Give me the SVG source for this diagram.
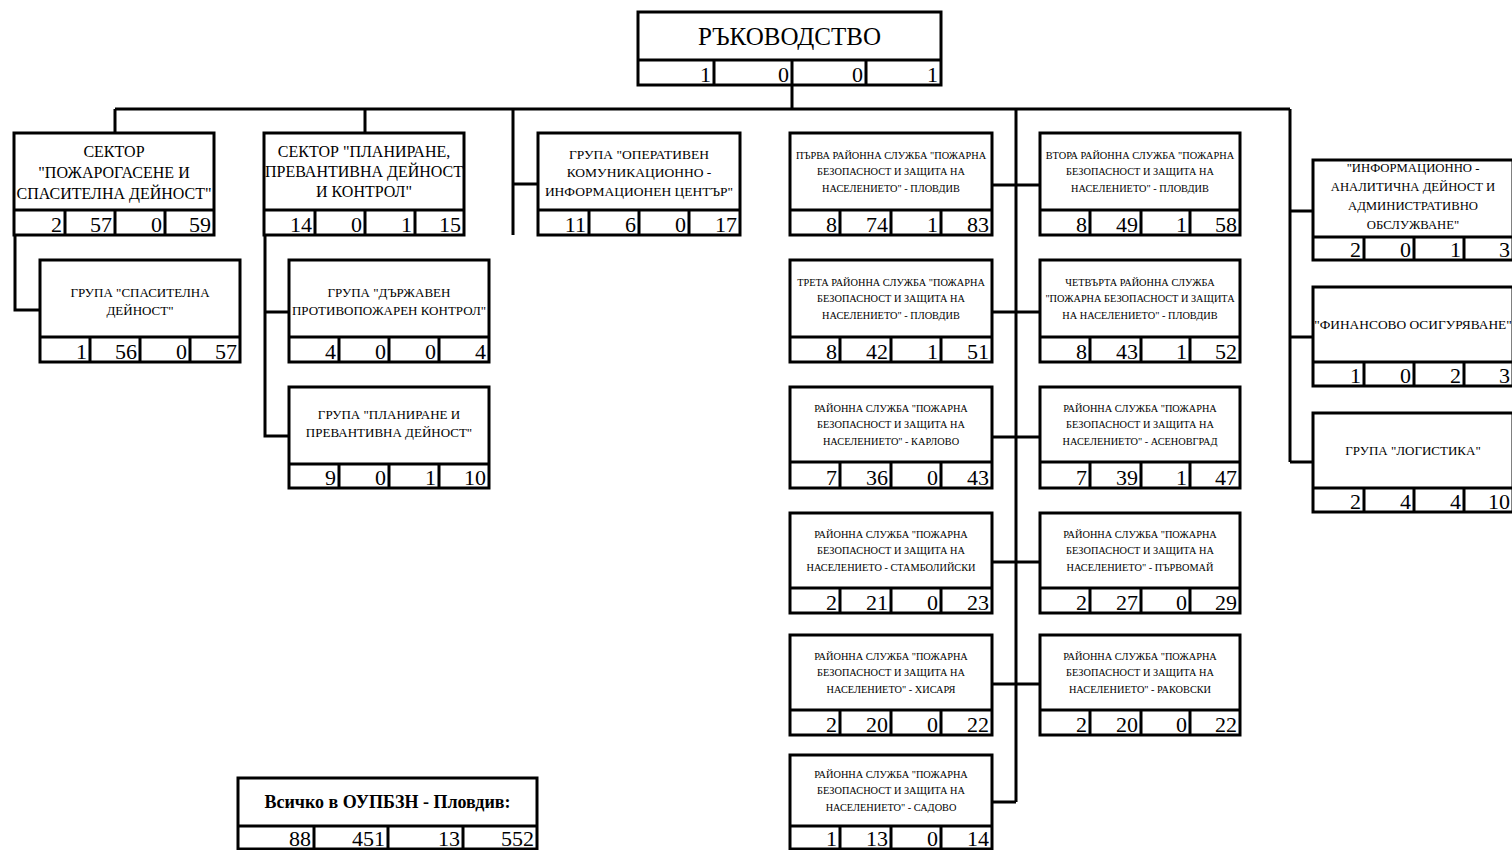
<svg xmlns="http://www.w3.org/2000/svg" width="1512" height="850" viewBox="0 0 1512 850">
<style>
.b{fill:#fff;stroke:#000;stroke-width:3}
.l{stroke:#000;stroke-width:3;fill:none}
.t{font-family:"Liberation Serif","Times New Roman",serif;text-anchor:middle;fill:#000}
.n{font-family:"Liberation Serif","Times New Roman",serif;text-anchor:end;font-size:22px;fill:#000}
.s16{font-size:16px}.s13{font-size:13px}.s135{font-size:13.5px}.s103{font-size:10.3px}
</style>
<rect width="1512" height="850" fill="#fff"/>
<g id="connectors" class="l">
<path d="M792 85V109M115 109H1290M115 109V133M365 109V133"/>
<path d="M513 109V235M513 184H538"/>
<path d="M1016 109V802M992 185H1040M992 312H1040M992 437H1040M992 562H1040M992 684H1040M992 802H1016"/>
<path d="M1290 109V462M1290 211H1313M1290 337H1313M1290 462H1313"/>
<path d="M15 235V310H40"/>
<path d="M265 235V436H289M265 312H289"/>
</g>
<g id="rukovodstvo">
<rect class="b" x="638" y="12" width="303" height="73"/>
<path class="l" d="M638 60H941M714 60V85M792 60V85M866 60V85"/>
<text class="t" x="789.5" y="45" font-size="25">РЪКОВОДСТВО</text>
<text class="n" y="82"><tspan x="711">1</tspan><tspan x="789">0</tspan><tspan x="863">0</tspan><tspan x="938">1</tspan></text>
</g>
<g id="sector1">
<rect class="b" x="14" y="133" width="200" height="102"/>
<path class="l" d="M14 210H214M65 210V235M115 210V235M165 210V235"/>
<text class="t s16"><tspan x="114" y="157">СЕКТОР</tspan><tspan x="114" y="178">"ПОЖАРОГАСЕНЕ И</tspan><tspan x="114" y="199">СПАСИТЕЛНА ДЕЙНОСТ"</tspan></text>
<text class="n" y="232"><tspan x="62">2</tspan><tspan x="112">57</tspan><tspan x="162">0</tspan><tspan x="211">59</tspan></text>
</g>
<g id="grp_spasitelna">
<rect class="b" x="40" y="260" width="200" height="102"/>
<path class="l" d="M40 337H240M90 337V362M140 337V362M190 337V362"/>
<text class="t s13"><tspan x="140" y="297">ГРУПА "СПАСИТЕЛНА</tspan><tspan x="140" y="315">ДЕЙНОСТ"</tspan></text>
<text class="n" y="359"><tspan x="87">1</tspan><tspan x="137">56</tspan><tspan x="187">0</tspan><tspan x="237">57</tspan></text>
</g>
<g id="sector2">
<rect class="b" x="264" y="133" width="200" height="102"/>
<path class="l" d="M264 210H464M315 210V235M365 210V235M415 210V235"/>
<text class="t s16"><tspan x="364" y="157">СЕКТОР "ПЛАНИРАНЕ,</tspan><tspan x="364" y="177">ПРЕВАНТИВНА ДЕЙНОСТ</tspan><tspan x="364" y="197">И КОНТРОЛ"</tspan></text>
<text class="n" y="232"><tspan x="312">14</tspan><tspan x="362">0</tspan><tspan x="412">1</tspan><tspan x="461">15</tspan></text>
</g>
<g id="grp_dpk">
<rect class="b" x="289" y="260" width="200" height="102"/>
<path class="l" d="M289 337H489M339 337V362M389 337V362M439 337V362"/>
<text class="t s13"><tspan x="389" y="297">ГРУПА "ДЪРЖАВЕН</tspan><tspan x="389" y="315">ПРОТИВОПОЖАРЕН КОНТРОЛ"</tspan></text>
<text class="n" y="359"><tspan x="336">4</tspan><tspan x="386">0</tspan><tspan x="436">0</tspan><tspan x="486">4</tspan></text>
</g>
<g id="grp_ppd">
<rect class="b" x="289" y="387" width="200" height="101"/>
<path class="l" d="M289 464H489M339 464V488M389 464V488M439 464V488"/>
<text class="t s13"><tspan x="389" y="419">ГРУПА "ПЛАНИРАНЕ И</tspan><tspan x="389" y="437">ПРЕВАНТИВНА ДЕЙНОСТ"</tspan></text>
<text class="n" y="485"><tspan x="336">9</tspan><tspan x="386">0</tspan><tspan x="436">1</tspan><tspan x="486">10</tspan></text>
</g>
<g id="grp_okic">
<rect class="b" x="538" y="133" width="202" height="102"/>
<path class="l" d="M538 210H740M589 210V235M639 210V235M689 210V235"/>
<text class="t s135"><tspan x="639" y="159">ГРУПА "ОПЕРАТИВЕН</tspan><tspan x="639" y="177">КОМУНИКАЦИОННО -</tspan><tspan x="639" y="196">ИНФОРМАЦИОНЕН ЦЕНТЪР"</tspan></text>
<text class="n" y="232"><tspan x="586">11</tspan><tspan x="636">6</tspan><tspan x="686">0</tspan><tspan x="737">17</tspan></text>
</g>
<g id="rs1_plovdiv">
<rect class="b" x="790" y="133" width="202" height="102"/>
<path class="l" d="M790 210H992M840 210V235M891 210V235M941 210V235"/>
<text class="t s103"><tspan x="891" y="158.5">ПЪРВА РАЙОННА СЛУЖБА "ПОЖАРНА</tspan><tspan x="891" y="175">БЕЗОПАСНОСТ И ЗАЩИТА НА</tspan><tspan x="891" y="191.5">НАСЕЛЕНИЕТО"  - ПЛОВДИВ</tspan></text>
<text class="n" y="232"><tspan x="837">8</tspan><tspan x="888">74</tspan><tspan x="938">1</tspan><tspan x="989">83</tspan></text>
</g>
<g id="rs2_plovdiv">
<rect class="b" x="1040" y="133" width="200" height="102"/>
<path class="l" d="M1040 210H1240M1090 210V235M1141 210V235M1190 210V235"/>
<text class="t s103"><tspan x="1140" y="158.5">ВТОРА РАЙОННА СЛУЖБА "ПОЖАРНА</tspan><tspan x="1140" y="175">БЕЗОПАСНОСТ И ЗАЩИТА НА</tspan><tspan x="1140" y="191.5">НАСЕЛЕНИЕТО" - ПЛОВДИВ</tspan></text>
<text class="n" y="232"><tspan x="1087">8</tspan><tspan x="1138">49</tspan><tspan x="1187">1</tspan><tspan x="1237">58</tspan></text>
</g>
<g id="rs3_plovdiv">
<rect class="b" x="790" y="260" width="202" height="102"/>
<path class="l" d="M790 337H992M840 337V362M891 337V362M941 337V362"/>
<text class="t s103"><tspan x="891" y="285.5">ТРЕТА РАЙОННА СЛУЖБА "ПОЖАРНА</tspan><tspan x="891" y="302">БЕЗОПАСНОСТ И ЗАЩИТА НА</tspan><tspan x="891" y="318.5">НАСЕЛЕНИЕТО" - ПЛОВДИВ</tspan></text>
<text class="n" y="359"><tspan x="837">8</tspan><tspan x="888">42</tspan><tspan x="938">1</tspan><tspan x="989">51</tspan></text>
</g>
<g id="rs4_plovdiv">
<rect class="b" x="1040" y="260" width="200" height="102"/>
<path class="l" d="M1040 337H1240M1090 337V362M1141 337V362M1190 337V362"/>
<text class="t s103"><tspan x="1140" y="285.5">ЧЕТВЪРТА РАЙОННА СЛУЖБА</tspan><tspan x="1140" y="302">"ПОЖАРНА БЕЗОПАСНОСТ И ЗАЩИТА</tspan><tspan x="1140" y="318.5">НА НАСЕЛЕНИЕТО" - ПЛОВДИВ</tspan></text>
<text class="n" y="359"><tspan x="1087">8</tspan><tspan x="1138">43</tspan><tspan x="1187">1</tspan><tspan x="1237">52</tspan></text>
</g>
<g id="rs_karlovo">
<rect class="b" x="790" y="387" width="202" height="101"/>
<path class="l" d="M790 462H992M840 462V488M891 462V488M941 462V488"/>
<text class="t s103"><tspan x="891" y="411.5">РАЙОННА СЛУЖБА "ПОЖАРНА</tspan><tspan x="891" y="428">БЕЗОПАСНОСТ И ЗАЩИТА НА</tspan><tspan x="891" y="444.5">НАСЕЛЕНИЕТО"  - КАРЛОВО</tspan></text>
<text class="n" y="485"><tspan x="837">7</tspan><tspan x="888">36</tspan><tspan x="938">0</tspan><tspan x="989">43</tspan></text>
</g>
<g id="rs_asenovgrad">
<rect class="b" x="1040" y="387" width="200" height="101"/>
<path class="l" d="M1040 462H1240M1090 462V488M1141 462V488M1190 462V488"/>
<text class="t s103"><tspan x="1140" y="411.5">РАЙОННА СЛУЖБА "ПОЖАРНА</tspan><tspan x="1140" y="428">БЕЗОПАСНОСТ И ЗАЩИТА НА</tspan><tspan x="1140" y="444.5">НАСЕЛЕНИЕТО" - АСЕНОВГРАД</tspan></text>
<text class="n" y="485"><tspan x="1087">7</tspan><tspan x="1138">39</tspan><tspan x="1187">1</tspan><tspan x="1237">47</tspan></text>
</g>
<g id="rs_stamboliyski">
<rect class="b" x="790" y="513" width="202" height="100"/>
<path class="l" d="M790 588H992M840 588V613M891 588V613M941 588V613"/>
<text class="t s103"><tspan x="891" y="537.5">РАЙОННА СЛУЖБА "ПОЖАРНА</tspan><tspan x="891" y="554">БЕЗОПАСНОСТ И ЗАЩИТА НА</tspan><tspan x="891" y="570.5">НАСЕЛЕНИЕТО - СТАМБОЛИЙСКИ</tspan></text>
<text class="n" y="610"><tspan x="837">2</tspan><tspan x="888">21</tspan><tspan x="938">0</tspan><tspan x="989">23</tspan></text>
</g>
<g id="rs_parvomay">
<rect class="b" x="1040" y="513" width="200" height="100"/>
<path class="l" d="M1040 588H1240M1090 588V613M1141 588V613M1190 588V613"/>
<text class="t s103"><tspan x="1140" y="537.5">РАЙОННА СЛУЖБА "ПОЖАРНА</tspan><tspan x="1140" y="554">БЕЗОПАСНОСТ И ЗАЩИТА НА</tspan><tspan x="1140" y="570.5">НАСЕЛЕНИЕТО" - ПЪРВОМАЙ</tspan></text>
<text class="n" y="610"><tspan x="1087">2</tspan><tspan x="1138">27</tspan><tspan x="1187">0</tspan><tspan x="1237">29</tspan></text>
</g>
<g id="rs_hisarya">
<rect class="b" x="790" y="635" width="202" height="100"/>
<path class="l" d="M790 710H992M840 710V735M891 710V735M941 710V735"/>
<text class="t s103"><tspan x="891" y="659.5">РАЙОННА СЛУЖБА "ПОЖАРНА</tspan><tspan x="891" y="676">БЕЗОПАСНОСТ И ЗАЩИТА НА</tspan><tspan x="891" y="692.5">НАСЕЛЕНИЕТО" - ХИСАРЯ</tspan></text>
<text class="n" y="732"><tspan x="837">2</tspan><tspan x="888">20</tspan><tspan x="938">0</tspan><tspan x="989">22</tspan></text>
</g>
<g id="rs_rakovski">
<rect class="b" x="1040" y="635" width="200" height="100"/>
<path class="l" d="M1040 710H1240M1090 710V735M1141 710V735M1190 710V735"/>
<text class="t s103"><tspan x="1140" y="659.5">РАЙОННА СЛУЖБА "ПОЖАРНА</tspan><tspan x="1140" y="676">БЕЗОПАСНОСТ И ЗАЩИТА НА</tspan><tspan x="1140" y="692.5">НАСЕЛЕНИЕТО" - РАКОВСКИ</tspan></text>
<text class="n" y="732"><tspan x="1087">2</tspan><tspan x="1138">20</tspan><tspan x="1187">0</tspan><tspan x="1237">22</tspan></text>
</g>
<g id="rs_sadovo">
<rect class="b" x="790" y="755" width="202" height="94"/>
<path class="l" d="M790 826H992M840 826V849M891 826V849M941 826V849"/>
<text class="t s103"><tspan x="891" y="777.5">РАЙОННА СЛУЖБА "ПОЖАРНА</tspan><tspan x="891" y="794">БЕЗОПАСНОСТ И ЗАЩИТА НА</tspan><tspan x="891" y="810.5">НАСЕЛЕНИЕТО" - САДОВО</tspan></text>
<text class="n" y="846"><tspan x="837">1</tspan><tspan x="888">13</tspan><tspan x="938">0</tspan><tspan x="989">14</tspan></text>
</g>
<g id="info_analytics">
<rect class="b" x="1313" y="160" width="200" height="100"/>
<path class="l" d="M1313 237H1513M1364 237V260M1414 237V260M1464 237V260"/>
<text class="t" font-size="12.7"><tspan x="1413" y="171.5">"ИНФОРМАЦИОННО -</tspan><tspan x="1413" y="190.5">АНАЛИТИЧНА ДЕЙНОСТ И</tspan><tspan x="1413" y="209.5">АДМИНИСТРАТИВНО</tspan><tspan x="1413" y="228.5">ОБСЛУЖВАНЕ"</tspan></text>
<text class="n" y="257"><tspan x="1361">2</tspan><tspan x="1411">0</tspan><tspan x="1461">1</tspan><tspan x="1510">3</tspan></text>
</g>
<g id="finance">
<rect class="b" x="1313" y="287" width="200" height="99"/>
<path class="l" d="M1313 362H1513M1364 362V386M1414 362V386M1464 362V386"/>
<text class="t" font-size="13.4" x="1413" y="329">"ФИНАНСОВО ОСИГУРЯВАНЕ"</text>
<text class="n" y="383"><tspan x="1361">1</tspan><tspan x="1411">0</tspan><tspan x="1461">2</tspan><tspan x="1510">3</tspan></text>
</g>
<g id="logistics">
<rect class="b" x="1313" y="413" width="200" height="99"/>
<path class="l" d="M1313 488H1513M1364 488V512M1414 488V512M1464 488V512"/>
<text class="t s13" x="1413" y="455">ГРУПА "ЛОГИСТИКА"</text>
<text class="n" y="509"><tspan x="1361">2</tspan><tspan x="1411">4</tspan><tspan x="1461">4</tspan><tspan x="1510">10</tspan></text>
</g>
<g id="total">
<rect class="b" x="238" y="778" width="299" height="71"/>
<path class="l" d="M238 826H537M314 826V849M388 826V849M463 826V849"/>
<text class="t" x="387.5" y="808" font-size="18" font-weight="bold">Всичко в ОУПБЗН - Пловдив:</text>
<text class="n" y="846"><tspan x="311">88</tspan><tspan x="385">451</tspan><tspan x="460">13</tspan><tspan x="534">552</tspan></text>
</g>
</svg>
